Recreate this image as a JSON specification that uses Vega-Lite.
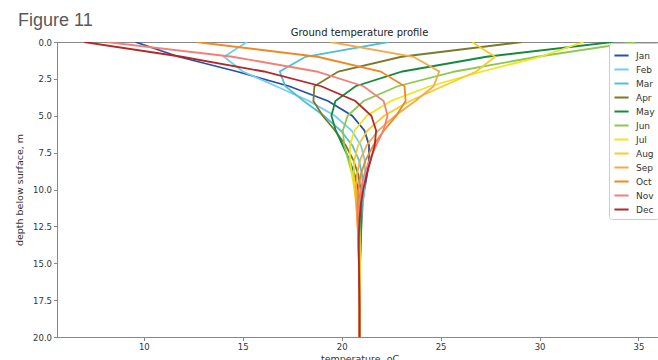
{
  "$schema": "https://vega.github.io/schema/vega-lite/v6.json",
  "padding": {"left": 14, "top": 11, "right": 0, "bottom": 0},
  "autosize": {"type": "pad"},
  "background": "white",
  "title": {"text": "Figure 11", "anchor": "start", "fontSize": 18, "font": "Liberation Sans", "fontWeight": "normal", "color": "#595959", "offset": -2, "dx": 4},
  "config": {
    "view": {"stroke": "#888888", "strokeWidth": 1},
    "concat": {"spacing": 0},
    "axis": {"grid": false, "domainColor": "#888888", "tickColor": "#888888", "tickSize": 3.5, "labelFont": "DejaVu Sans", "labelFontSize": 8.5, "labelColor": "#333333", "titleFont": "DejaVu Sans", "titleFontSize": 9.5, "titleFontWeight": "normal", "titleColor": "#333333", "labelPadding": 2}
  },
  "vconcat": [
    {
      "width": 605,
      "height": 295,
      "title": {"text": "Ground temperature profile", "frame": "group", "anchor": "middle", "fontSize": 10, "fontWeight": "normal", "font": "DejaVu Sans", "color": "#222222", "offset": 0},
      "data": {"values": [
        {"month":"Jan","depth":0,"temp":9.57},{"month":"Jan","depth":1,"temp":11.76},{"month":"Jan","depth":2,"temp":14.70},{"month":"Jan","depth":3,"temp":17.35},{"month":"Jan","depth":4,"temp":19.31},{"month":"Jan","depth":5,"temp":20.53},{"month":"Jan","depth":6,"temp":21.15},{"month":"Jan","depth":7,"temp":21.38},{"month":"Jan","depth":8,"temp":21.38},{"month":"Jan","depth":9,"temp":21.28},{"month":"Jan","depth":10,"temp":21.15},{"month":"Jan","depth":11,"temp":21.04},{"month":"Jan","depth":12,"temp":20.96},{"month":"Jan","depth":13,"temp":20.91},{"month":"Jan","depth":14,"temp":20.89},{"month":"Jan","depth":15,"temp":20.90},{"month":"Jan","depth":16,"temp":20.90},{"month":"Jan","depth":17,"temp":20.90},{"month":"Jan","depth":18,"temp":20.90},{"month":"Jan","depth":19,"temp":20.90},{"month":"Jan","depth":20,"temp":20.90},
        {"month":"Feb","depth":0,"temp":15.21},{"month":"Feb","depth":1,"temp":14.05},{"month":"Feb","depth":2,"temp":15.00},{"month":"Feb","depth":3,"temp":16.69},{"month":"Feb","depth":4,"temp":18.35},{"month":"Feb","depth":5,"temp":19.65},{"month":"Feb","depth":6,"temp":20.50},{"month":"Feb","depth":7,"temp":20.97},{"month":"Feb","depth":8,"temp":21.16},{"month":"Feb","depth":9,"temp":21.19},{"month":"Feb","depth":10,"temp":21.15},{"month":"Feb","depth":11,"temp":21.07},{"month":"Feb","depth":12,"temp":21.00},{"month":"Feb","depth":13,"temp":20.95},{"month":"Feb","depth":14,"temp":20.91},{"month":"Feb","depth":15,"temp":20.90},{"month":"Feb","depth":16,"temp":20.90},{"month":"Feb","depth":17,"temp":20.90},{"month":"Feb","depth":18,"temp":20.90},{"month":"Feb","depth":19,"temp":20.90},{"month":"Feb","depth":20,"temp":20.90},
        {"month":"Mar","depth":0,"temp":22.36},{"month":"Mar","depth":1,"temp":18.17},{"month":"Mar","depth":2,"temp":16.87},{"month":"Mar","depth":3,"temp":17.15},{"month":"Mar","depth":4,"temp":18.08},{"month":"Mar","depth":5,"temp":19.10},{"month":"Mar","depth":6,"temp":19.95},{"month":"Mar","depth":7,"temp":20.53},{"month":"Mar","depth":8,"temp":20.87},{"month":"Mar","depth":9,"temp":21.03},{"month":"Mar","depth":10,"temp":21.08},{"month":"Mar","depth":11,"temp":21.06},{"month":"Mar","depth":12,"temp":21.02},{"month":"Mar","depth":13,"temp":20.97},{"month":"Mar","depth":14,"temp":20.94},{"month":"Mar","depth":15,"temp":20.91},{"month":"Mar","depth":16,"temp":20.90},{"month":"Mar","depth":17,"temp":20.90},{"month":"Mar","depth":18,"temp":20.90},{"month":"Mar","depth":19,"temp":20.90},{"month":"Mar","depth":20,"temp":20.90},
        {"month":"Apr","depth":0,"temp":29.13},{"month":"Apr","depth":1,"temp":23.02},{"month":"Apr","depth":2,"temp":19.83},{"month":"Apr","depth":3,"temp":18.62},{"month":"Apr","depth":4,"temp":18.57},{"month":"Apr","depth":5,"temp":19.04},{"month":"Apr","depth":6,"temp":19.66},{"month":"Apr","depth":7,"temp":20.20},{"month":"Apr","depth":8,"temp":20.59},{"month":"Apr","depth":9,"temp":20.84},{"month":"Apr","depth":10,"temp":20.96},{"month":"Apr","depth":11,"temp":21.00},{"month":"Apr","depth":12,"temp":21.00},{"month":"Apr","depth":13,"temp":20.98},{"month":"Apr","depth":14,"temp":20.95},{"month":"Apr","depth":15,"temp":20.93},{"month":"Apr","depth":16,"temp":20.91},{"month":"Apr","depth":17,"temp":20.90},{"month":"Apr","depth":18,"temp":20.90},{"month":"Apr","depth":19,"temp":20.90},{"month":"Apr","depth":20,"temp":20.90},
        {"month":"May","depth":0,"temp":33.69},{"month":"May","depth":1,"temp":27.32},{"month":"May","depth":2,"temp":23.07},{"month":"May","depth":3,"temp":20.70},{"month":"May","depth":4,"temp":19.68},{"month":"May","depth":5,"temp":19.48},{"month":"May","depth":6,"temp":19.70},{"month":"May","depth":7,"temp":20.05},{"month":"May","depth":8,"temp":20.39},{"month":"May","depth":9,"temp":20.66},{"month":"May","depth":10,"temp":20.83},{"month":"May","depth":11,"temp":20.92},{"month":"May","depth":12,"temp":20.96},{"month":"May","depth":13,"temp":20.96},{"month":"May","depth":14,"temp":20.95},{"month":"May","depth":15,"temp":20.93},{"month":"May","depth":16,"temp":20.92},{"month":"May","depth":17,"temp":20.91},{"month":"May","depth":18,"temp":20.90},{"month":"May","depth":19,"temp":20.90},{"month":"May","depth":20,"temp":20.90},
        {"month":"Jun","depth":0,"temp":34.82},{"month":"Jun","depth":1,"temp":29.88},{"month":"Jun","depth":2,"temp":25.73},{"month":"Jun","depth":3,"temp":22.83},{"month":"Jun","depth":4,"temp":21.11},{"month":"Jun","depth":5,"temp":20.30},{"month":"Jun","depth":6,"temp":20.06},{"month":"Jun","depth":7,"temp":20.13},{"month":"Jun","depth":8,"temp":20.33},{"month":"Jun","depth":9,"temp":20.54},{"month":"Jun","depth":10,"temp":20.71},{"month":"Jun","depth":11,"temp":20.83},{"month":"Jun","depth":12,"temp":20.90},{"month":"Jun","depth":13,"temp":20.93},{"month":"Jun","depth":14,"temp":20.94},{"month":"Jun","depth":15,"temp":20.93},{"month":"Jun","depth":16,"temp":20.92},{"month":"Jun","depth":17,"temp":20.91},{"month":"Jun","depth":18,"temp":20.90},{"month":"Jun","depth":19,"temp":20.90},{"month":"Jun","depth":20,"temp":20.90},
        {"month":"Jul","depth":0,"temp":32.23},{"month":"Jul","depth":1,"temp":30.04},{"month":"Jul","depth":2,"temp":27.10},{"month":"Jul","depth":3,"temp":24.45},{"month":"Jul","depth":4,"temp":22.49},{"month":"Jul","depth":5,"temp":21.27},{"month":"Jul","depth":6,"temp":20.65},{"month":"Jul","depth":7,"temp":20.42},{"month":"Jul","depth":8,"temp":20.42},{"month":"Jul","depth":9,"temp":20.52},{"month":"Jul","depth":10,"temp":20.65},{"month":"Jul","depth":11,"temp":20.76},{"month":"Jul","depth":12,"temp":20.84},{"month":"Jul","depth":13,"temp":20.89},{"month":"Jul","depth":14,"temp":20.91},{"month":"Jul","depth":15,"temp":20.92},{"month":"Jul","depth":16,"temp":20.92},{"month":"Jul","depth":17,"temp":20.92},{"month":"Jul","depth":18,"temp":20.91},{"month":"Jul","depth":19,"temp":20.90},{"month":"Jul","depth":20,"temp":20.90},
        {"month":"Aug","depth":0,"temp":26.59},{"month":"Aug","depth":1,"temp":27.75},{"month":"Aug","depth":2,"temp":26.80},{"month":"Aug","depth":3,"temp":25.11},{"month":"Aug","depth":4,"temp":23.45},{"month":"Aug","depth":5,"temp":22.15},{"month":"Aug","depth":6,"temp":21.30},{"month":"Aug","depth":7,"temp":20.83},{"month":"Aug","depth":8,"temp":20.64},{"month":"Aug","depth":9,"temp":20.61},{"month":"Aug","depth":10,"temp":20.65},{"month":"Aug","depth":11,"temp":20.73},{"month":"Aug","depth":12,"temp":20.80},{"month":"Aug","depth":13,"temp":20.85},{"month":"Aug","depth":14,"temp":20.89},{"month":"Aug","depth":15,"temp":20.90},{"month":"Aug","depth":16,"temp":20.91},{"month":"Aug","depth":17,"temp":20.91},{"month":"Aug","depth":18,"temp":20.90},{"month":"Aug","depth":19,"temp":20.90},{"month":"Aug","depth":20,"temp":20.90},
        {"month":"Sep","depth":0,"temp":19.44},{"month":"Sep","depth":1,"temp":23.63},{"month":"Sep","depth":2,"temp":24.93},{"month":"Sep","depth":3,"temp":24.65},{"month":"Sep","depth":4,"temp":23.72},{"month":"Sep","depth":5,"temp":22.70},{"month":"Sep","depth":6,"temp":21.85},{"month":"Sep","depth":7,"temp":21.27},{"month":"Sep","depth":8,"temp":20.93},{"month":"Sep","depth":9,"temp":20.77},{"month":"Sep","depth":10,"temp":20.72},{"month":"Sep","depth":11,"temp":20.74},{"month":"Sep","depth":12,"temp":20.78},{"month":"Sep","depth":13,"temp":20.83},{"month":"Sep","depth":14,"temp":20.86},{"month":"Sep","depth":15,"temp":20.89},{"month":"Sep","depth":16,"temp":20.90},{"month":"Sep","depth":17,"temp":20.90},{"month":"Sep","depth":18,"temp":20.90},{"month":"Sep","depth":19,"temp":20.90},{"month":"Sep","depth":20,"temp":20.90},
        {"month":"Oct","depth":0,"temp":12.67},{"month":"Oct","depth":1,"temp":18.78},{"month":"Oct","depth":2,"temp":21.97},{"month":"Oct","depth":3,"temp":23.18},{"month":"Oct","depth":4,"temp":23.23},{"month":"Oct","depth":5,"temp":22.76},{"month":"Oct","depth":6,"temp":22.14},{"month":"Oct","depth":7,"temp":21.60},{"month":"Oct","depth":8,"temp":21.21},{"month":"Oct","depth":9,"temp":20.96},{"month":"Oct","depth":10,"temp":20.84},{"month":"Oct","depth":11,"temp":20.80},{"month":"Oct","depth":12,"temp":20.80},{"month":"Oct","depth":13,"temp":20.82},{"month":"Oct","depth":14,"temp":20.85},{"month":"Oct","depth":15,"temp":20.87},{"month":"Oct","depth":16,"temp":20.89},{"month":"Oct","depth":17,"temp":20.90},{"month":"Oct","depth":18,"temp":20.90},{"month":"Oct","depth":19,"temp":20.90},{"month":"Oct","depth":20,"temp":20.90},
        {"month":"Nov","depth":0,"temp":8.11},{"month":"Nov","depth":1,"temp":14.48},{"month":"Nov","depth":2,"temp":18.73},{"month":"Nov","depth":3,"temp":21.10},{"month":"Nov","depth":4,"temp":22.12},{"month":"Nov","depth":5,"temp":22.32},{"month":"Nov","depth":6,"temp":22.10},{"month":"Nov","depth":7,"temp":21.75},{"month":"Nov","depth":8,"temp":21.41},{"month":"Nov","depth":9,"temp":21.14},{"month":"Nov","depth":10,"temp":20.97},{"month":"Nov","depth":11,"temp":20.88},{"month":"Nov","depth":12,"temp":20.84},{"month":"Nov","depth":13,"temp":20.84},{"month":"Nov","depth":14,"temp":20.85},{"month":"Nov","depth":15,"temp":20.87},{"month":"Nov","depth":16,"temp":20.88},{"month":"Nov","depth":17,"temp":20.89},{"month":"Nov","depth":18,"temp":20.90},{"month":"Nov","depth":19,"temp":20.90},{"month":"Nov","depth":20,"temp":20.90},
        {"month":"Dec","depth":0,"temp":6.98},{"month":"Dec","depth":1,"temp":11.92},{"month":"Dec","depth":2,"temp":16.07},{"month":"Dec","depth":3,"temp":18.97},{"month":"Dec","depth":4,"temp":20.69},{"month":"Dec","depth":5,"temp":21.50},{"month":"Dec","depth":6,"temp":21.74},{"month":"Dec","depth":7,"temp":21.67},{"month":"Dec","depth":8,"temp":21.47},{"month":"Dec","depth":9,"temp":21.26},{"month":"Dec","depth":10,"temp":21.09},{"month":"Dec","depth":11,"temp":20.97},{"month":"Dec","depth":12,"temp":20.90},{"month":"Dec","depth":13,"temp":20.87},{"month":"Dec","depth":14,"temp":20.86},{"month":"Dec","depth":15,"temp":20.87},{"month":"Dec","depth":16,"temp":20.88},{"month":"Dec","depth":17,"temp":20.89},{"month":"Dec","depth":18,"temp":20.90},{"month":"Dec","depth":19,"temp":20.90},{"month":"Dec","depth":20,"temp":20.90}
      ]},
      "mark": {"type": "line", "strokeWidth": 1.8, "clip": true},
      "encoding": {
        "x": {"field": "temp", "type": "quantitative", "scale": {"domain": [5.61, 36.19], "nice": false, "zero": false},
              "axis": {"values": [10, 15, 20, 25, 30, 35], "format": "d", "title": "temperature, oC", "titlePadding": 2}},
        "y": {"field": "depth", "type": "quantitative", "scale": {"domain": [0, 20], "reverse": true, "nice": false},
              "axis": {"values": [0, 2.5, 5, 7.5, 10, 12.5, 15, 17.5, 20], "format": ".1f", "title": "depth below surface, m", "titlePadding": 8}},
        "order": {"field": "depth", "type": "quantitative"},
        "color": {"field": "month", "type": "nominal",
                  "scale": {"domain": ["Jan","Feb","Mar","Apr","May","Jun","Jul","Aug","Sep","Oct","Nov","Dec"],
                            "range": ["#2850a8","#72cef0","#52c0d4","#7a7a2a","#158a3c","#8cc850","#f0e41e","#f8cc28","#f8a848","#f08820","#f08078","#b02828"]},
                  "legend": {"title": null, "orient": "none", "legendX": 552, "legendY": 1, "symbolType": "stroke", "symbolSize": 200, "symbolStrokeWidth": 2, "labelFont": "DejaVu Sans", "labelFontSize": 9, "labelColor": "#333333", "labelOffset": 6, "rowPadding": 0, "strokeColor": "#cccccc", "fillColor": "white", "cornerRadius": 3, "padding": 4}}
      }
    }
  ]
}
